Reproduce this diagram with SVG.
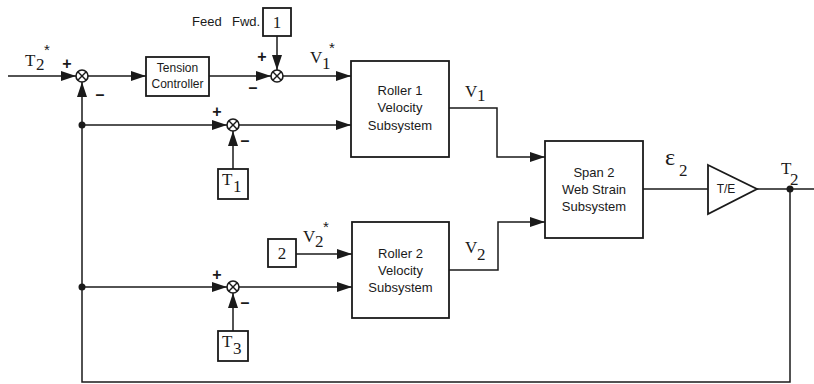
<svg xmlns="http://www.w3.org/2000/svg" width="814" height="384" viewBox="0 0 814 384">
<style>
.ln{fill:none;stroke:#1a1a1a;stroke-width:1.5}
.bx{fill:#fff;stroke:#1a1a1a;stroke-width:1.8}
.sum{fill:#fff;stroke:#1a1a1a;stroke-width:1.6}
.sx{stroke:#1a1a1a;stroke-width:1.4}
.sans{font-family:"Liberation Sans",Arial,sans-serif;fill:#1a1a1a}
.ser{font-family:"Liberation Serif","Times New Roman",serif;fill:#1a1a1a}
.sg{font-family:"Liberation Sans",Arial,sans-serif;font-size:16px;font-weight:bold;fill:#1a1a1a;text-anchor:middle}
.ast{font-family:"Liberation Sans",Arial,sans-serif;font-size:15px;fill:#1a1a1a;text-anchor:middle}
.dot{fill:#1a1a1a}
</style>
<defs>
<marker id="ah" viewBox="0 0 15 10" refX="15" refY="5" markerWidth="15" markerHeight="10" markerUnits="userSpaceOnUse" orient="auto">
<path d="M0,0 L15,5 L0,10 z" fill="#1a1a1a"/>
</marker>
<g id="sumglyph">
<circle r="6" class="sum"/>
<line x1="-4.2" y1="-4.2" x2="4.2" y2="4.2" class="sx"/>
<line x1="-4.2" y1="4.2" x2="4.2" y2="-4.2" class="sx"/>
</g>
</defs>

<g id="connectors">
<line x1="8" y1="76" x2="76" y2="76" class="ln" marker-end="url(#ah)"/>
<line x1="88" y1="76" x2="146" y2="76" class="ln" marker-end="url(#ah)"/>
<line x1="209" y1="76" x2="271" y2="76" class="ln" marker-end="url(#ah)"/>
<line x1="277" y1="36" x2="277" y2="70" class="ln" marker-end="url(#ah)"/>
<line x1="283" y1="76" x2="351" y2="76" class="ln" marker-end="url(#ah)"/>
<line x1="82" y1="125" x2="227" y2="125" class="ln" marker-end="url(#ah)"/>
<line x1="239" y1="125" x2="351" y2="125" class="ln" marker-end="url(#ah)"/>
<line x1="233" y1="169" x2="233" y2="131" class="ln" marker-end="url(#ah)"/>
<line x1="82" y1="287" x2="227" y2="287" class="ln" marker-end="url(#ah)"/>
<line x1="239" y1="287" x2="352" y2="287" class="ln" marker-end="url(#ah)"/>
<line x1="296" y1="254" x2="352" y2="254" class="ln" marker-end="url(#ah)"/>
<line x1="233" y1="331" x2="233" y2="293" class="ln" marker-end="url(#ah)"/>
<polyline points="449,108 497,108 497,157 545,157" class="ln" marker-end="url(#ah)"/>
<polyline points="449,270 498,270 498,222 545,222" class="ln" marker-end="url(#ah)"/>
<line x1="643" y1="189" x2="708" y2="189" class="ln"/>
<line x1="757" y1="189" x2="814" y2="189" class="ln"/>
<polyline points="790,189 790,382 82,382 82,82" class="ln" marker-end="url(#ah)"/>
<circle cx="82" cy="125" r="3.5" class="dot"/>
<circle cx="82" cy="287" r="3.5" class="dot"/>
<circle cx="790" cy="189" r="3.5" class="dot"/>
</g>

<g id="sum1"><use href="#sumglyph" x="82" y="76"/>
<text x="67" y="69" class="sg">+</text><text x="100" y="100" class="sg">–</text></g>
<g id="sum2"><use href="#sumglyph" x="277" y="76"/>
<text x="262" y="62" class="sg">+</text><text x="253" y="93" class="sg">–</text></g>
<g id="sum3"><use href="#sumglyph" x="233" y="125"/>
<text x="217" y="117" class="sg">+</text><text x="245" y="146" class="sg">–</text></g>
<g id="sum4"><use href="#sumglyph" x="233" y="287"/>
<text x="217" y="280" class="sg">+</text><text x="245" y="308" class="sg">–</text></g>

<g id="t2ref">
<text class="ser" font-size="17"><tspan x="25" y="66">T</tspan><tspan x="36" y="70">2</tspan></text>
<text x="47" y="55" class="ast">*</text>
</g>

<g id="tension">
<rect x="146" y="57" width="63" height="39" class="bx"/>
<text class="sans" font-size="12" text-anchor="middle"><tspan x="177.5" y="72">Tension</tspan><tspan x="177.5" y="88">Controller</tspan></text>
</g>

<g id="feedfwd">
<text class="sans" font-size="13"><tspan x="192" y="26">Feed</tspan><tspan x="232" y="26">Fwd.</tspan></text>
<rect x="263" y="8" width="28" height="28" class="bx"/>
<text x="277" y="28" class="ser" font-size="17" text-anchor="middle">1</text>
</g>

<g id="v1star">
<text class="ser" font-size="17"><tspan x="310" y="63">V</tspan><tspan x="322" y="69">1</tspan></text>
<text x="332" y="53" class="ast">*</text>
</g>

<g id="roller1">
<rect x="351" y="61" width="98" height="96" class="bx"/>
<text class="sans" font-size="13" text-anchor="middle"><tspan x="400" y="95">Roller 1</tspan><tspan x="400" y="112">Velocity</tspan><tspan x="400" y="130">Subsystem</tspan></text>
</g>

<g id="v1lbl"><text class="ser" font-size="17"><tspan x="465" y="97">V</tspan><tspan x="477" y="101">1</tspan></text></g>

<g id="t1"><rect x="218" y="169" width="30" height="30" class="bx"/>
<text class="ser" font-size="17"><tspan x="222" y="185">T</tspan><tspan x="233" y="192">1</tspan></text></g>

<g id="ref2"><rect x="268" y="239" width="28" height="28" class="bx"/>
<text x="282" y="259" class="ser" font-size="17" text-anchor="middle">2</text></g>

<g id="v2star">
<text class="ser" font-size="17"><tspan x="303" y="242">V</tspan><tspan x="315" y="247">2</tspan></text>
<text x="326" y="232" class="ast">*</text>
</g>

<g id="roller2">
<rect x="352" y="222" width="97" height="96" class="bx"/>
<text class="sans" font-size="13" text-anchor="middle"><tspan x="400.5" y="258">Roller 2</tspan><tspan x="400.5" y="275">Velocity</tspan><tspan x="400.5" y="292">Subsystem</tspan></text>
</g>

<g id="v2lbl"><text class="ser" font-size="17"><tspan x="465" y="253">V</tspan><tspan x="477" y="260">2</tspan></text></g>

<g id="t3"><rect x="218" y="331" width="30" height="30" class="bx"/>
<text class="ser" font-size="17"><tspan x="222" y="347">T</tspan><tspan x="233" y="354">3</tspan></text></g>

<g id="span2">
<rect x="545" y="141" width="98" height="97" class="bx"/>
<text class="sans" font-size="13" text-anchor="middle"><tspan x="594" y="177">Span  2</tspan><tspan x="594" y="194">Web  Strain</tspan><tspan x="594" y="211">Subsystem</tspan></text>
</g>

<g id="eps"><text class="ser"><tspan x="665" y="165" font-size="24">ε</tspan><tspan x="679" y="176" font-size="17">2</tspan></text></g>

<g id="gain">
<polygon points="708,165 757,189 708,214" class="bx"/>
<text x="726" y="193" class="sans" font-size="12" text-anchor="middle">T/E</text>
</g>

<g id="t2out"><text class="ser" font-size="17"><tspan x="781" y="174">T</tspan><tspan x="790" y="185">2</tspan></text></g>
</svg>
